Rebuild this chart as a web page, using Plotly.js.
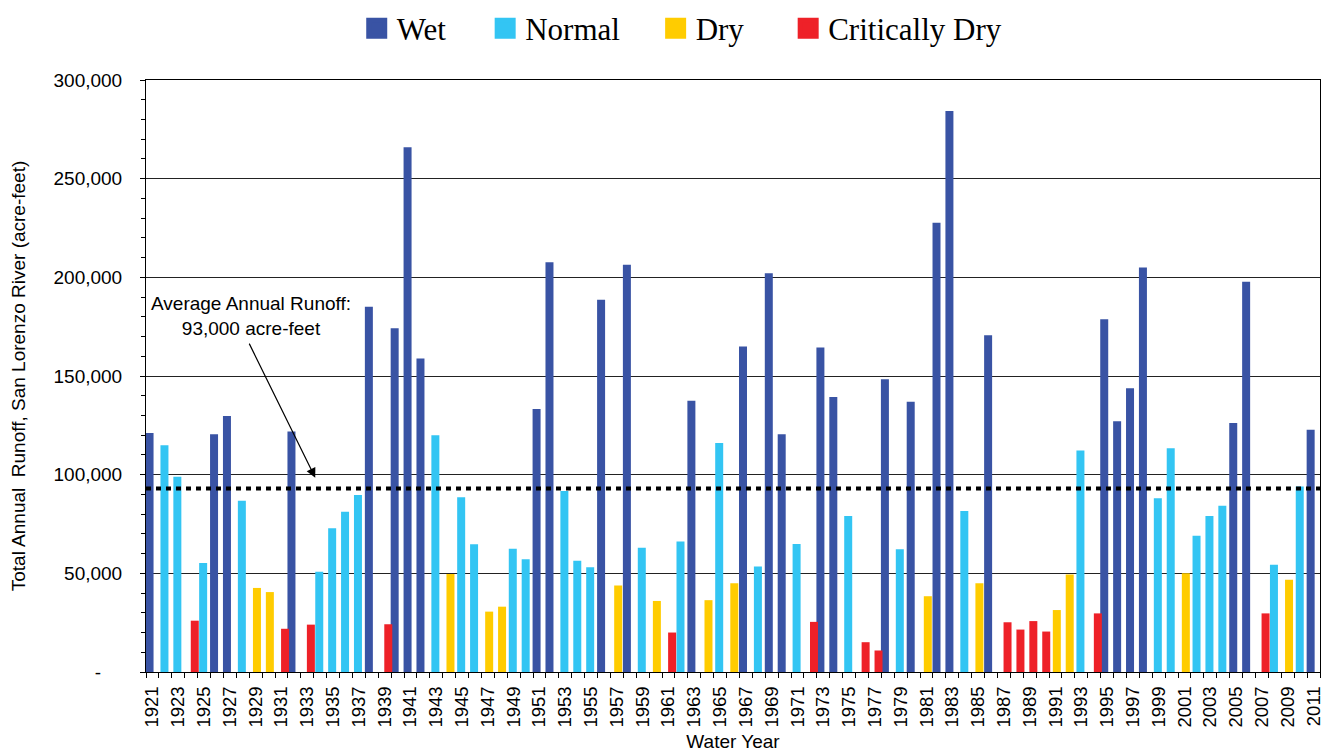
<!DOCTYPE html>
<html>
<head>
<meta charset="utf-8">
<script src="https://cdn.plot.ly/plotly-3.0.1.min.js"></script>
<style>
  html, body { margin: 0; padding: 0; background: #fff; }
  #chart { width: 1323px; height: 752px; }
</style>
</head>
<body>
<div id="chart"></div>
<script>
// ---------- DATA ----------
const years = [1921,1922,1923,1924,1925,1926,1927,1928,1929,1930,
  1931,1932,1933,1934,1935,1936,1937,1938,1939,1940,
  1941,1942,1943,1944,1945,1946,1947,1948,1949,1950,
  1951,1952,1953,1954,1955,1956,1957,1958,1959,1960,
  1961,1962,1963,1964,1965,1966,1967,1968,1969,1970,
  1971,1972,1973,1974,1975,1976,1977,1978,1979,1980,
  1981,1982,1983,1984,1985,1986,1987,1988,1989,1990,
  1991,1992,1993,1994,1995,1996,1997,1998,1999,2000,
  2001,2002,2003,2004,2005,2006,2007,2008,2009,2010,2011];

// Total annual runoff (acre-feet)
const runoff = [121100,114900,99000,26000,55200,120500,129700,86800,42600,40500,
  21900,121900,24000,50800,72900,81200,89700,185100,24200,174200,
  265900,158900,120000,49600,88600,64700,30600,33100,62400,57200,
  133300,207600,91700,56400,53100,188600,43800,206400,63000,36000,
  20000,66100,137400,36400,116100,45000,164900,53500,202100,120500,
  64900,25400,164500,139300,79100,15100,10900,148300,62200,137000,
  38400,227700,284300,81600,45000,170700,25200,21500,25800,20500,
  31400,49400,112200,29700,178700,127100,143800,205000,88000,113400,
  50000,69000,79100,84300,126200,197700,29700,54300,46700,94000,122700];

// Water-year type: W = Wet, N = Normal, D = Dry, C = Critically Dry
const yearType = ['W','N','N','C','N','W','W','N','D','D',
  'C','W','C','N','N','N','N','W','C','W',
  'W','W','N','D','N','N','D','D','N','N',
  'W','W','N','N','N','W','D','W','N','D',
  'C','N','W','D','N','D','W','N','W','W',
  'N','C','W','W','N','C','C','W','N','W',
  'D','W','W','N','D','W','C','C','C','C',
  'D','D','N','C','W','W','W','W','N','N',
  'D','N','N','N','W','W','C','N','D','N','W'];

const typeCodes  = ['W','N','D','C'];
const typeNames  = ['Wet','Normal','Dry','Critically Dry'];
const typeColors = ['#3953A4','#33C5F3','#FFCC00','#EE2128'];

const averageRunoff = 93000;
const averageLabel = 'Average Annual Runoff:<br>93,000 acre-feet';

const yTickValues = [0,50000,100000,150000,200000,250000,300000];
const yTickLabels = ['-\u00a0\u00a0\u00a0\u00a0','50,000','100,000','150,000','200,000','250,000','300,000'];
const xTickYears  = years.filter((y, i) => i % 2 === 0);
const xTickLabels = xTickYears.map(String);

// ---------- TRACES ----------
const barOffsets = [-0.535, -0.38, -0.21, -0.03];
const legendIds = ['legend', 'legend2', 'legend3', 'legend4'];
const traces = [];
typeCodes.forEach((code, k) => {
  const xs = [], ys = [];
  years.forEach((yr, i) => { if (yearType[i] === code) { xs.push(yr); ys.push(runoff[i]); } });
  traces.push({
    type: 'bar', x: xs, y: ys, name: typeNames[k],
    legendgroup: code, showlegend: false,
    width: 0.62, offset: barOffsets[k],
    marker: { color: typeColors[k], line: { width: 0 } },
    hovertemplate: '%{x}: %{y:,} acre-feet<extra>' + typeNames[k] + '</extra>'
  });
});
// legend entries (larger square swatches)
typeCodes.forEach((code, k) => {
  traces.push({
    type: 'scatter', mode: 'markers', x: [null], y: [null],
    name: typeNames[k], legendgroup: code, showlegend: true,
    legend: legendIds[k],
    marker: { symbol: 'square', size: 16, color: typeColors[k], line: { color: typeColors[k], width: 5 } },
    hoverinfo: 'skip'
  });
});

// ---------- LAYOUT ----------
const legendFont = { family: '"Liberation Serif", "Times New Roman", serif', size: 31, color: '#000' };
const legendX = [0.1795, 0.2889, 0.4341, 0.547];
function legendSpec(x) {
  return { orientation: 'h', x: x, xanchor: 'left', y: 1.085, yanchor: 'middle',
           font: legendFont, bgcolor: 'rgba(0,0,0,0)', borderwidth: 0 };
}

const axisFont = '"Liberation Sans", Arial, sans-serif';
const narrowFont = '"Liberation Sans Narrow", "Arial Narrow", "Liberation Sans", Arial, sans-serif';
const layout = {
  width: 1323, height: 752,
  margin: { l: 146, r: 3, t: 79, b: 80 },
  paper_bgcolor: '#fff', plot_bgcolor: '#fff',
  barmode: 'overlay',
  font: { family: axisFont, color: '#000' },
  legend: legendSpec(legendX[0]),
  legend2: legendSpec(legendX[1]),
  legend3: legendSpec(legendX[2]),
  legend4: legendSpec(legendX[3]),
  xaxis: {
    type: 'linear', range: [1920.5, 2011.5], autorange: false,
    tickmode: 'array', tickvals: xTickYears, ticktext: xTickLabels,
    tickangle: -90, ticks: '', tickfont: { size: 18.5, family: narrowFont, color: '#000' },
    ticklabelstandoff: 6, ticklabeloverflow: 'allow',
    minor: { tickmode: 'linear', tick0: 1920.5, dtick: 1, ticks: 'outside', ticklen: 5, tickcolor: '#000', tickwidth: 1, showgrid: false },
    showgrid: false, zeroline: false,
    showline: true, linecolor: '#000', linewidth: 1, mirror: true,
    title: { text: 'Water Year', font: { size: 19, family: axisFont, color: '#000' }, standoff: 9 },
    automargin: false, fixedrange: true
  },
  yaxis: {
    range: [0, 300000], autorange: false,
    tickmode: 'array', tickvals: yTickValues, ticktext: yTickLabels,
    ticks: 'outside', ticklen: 5, tickcolor: '#000', tickwidth: 1,
    tickfont: { size: 19, family: axisFont, color: '#000' },
    ticklabelstandoff: 14,
    minor: { tickmode: 'linear', tick0: 0, dtick: 10000, ticks: 'outside', ticklen: 4, tickcolor: '#000', showgrid: false },
    showgrid: true, gridcolor: '#222', gridwidth: 1,
    zeroline: false,
    showline: true, linecolor: '#000', linewidth: 1, mirror: true,
    title: { text: 'Total Annual&nbsp; Runoff, San Lorenzo River (acre-feet)', font: { size: 19, family: narrowFont, color: '#000' }, standoff: 22 },
    automargin: false, fixedrange: true
  },
  shapes: [{
    type: 'line', xref: 'paper', x0: 0, x1: 1, yref: 'y', y0: averageRunoff, y1: averageRunoff,
    line: { color: '#000', width: 4, dash: '5px,5px' }, layer: 'above'
  }],
  annotations: [
    { xref: 'x', yref: 'y', x: 1928.6, y: 180500, text: averageLabel, showarrow: false,
      xanchor: 'center', yanchor: 'middle', align: 'center',
      font: { size: 19, family: axisFont, color: '#000' } },
    { xref: 'x', yref: 'y', x: 1933.62, y: 98500, text: ' ', showarrow: true,
      ax: -67, ay: -136, arrowhead: 2, arrowsize: 1.6, arrowwidth: 1.2, arrowcolor: '#000',
      font: { size: 1 } }
  ]
};

Plotly.newPlot('chart', traces, layout, { displayModeBar: false, responsive: false });
</script>
</body>
</html>
